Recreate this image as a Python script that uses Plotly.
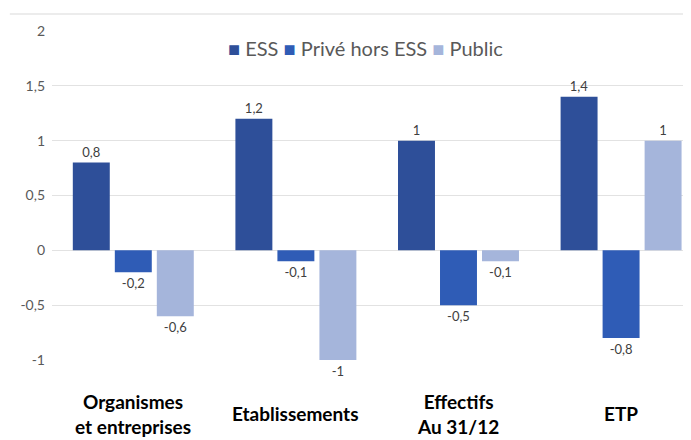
import plotly.graph_objects as go

categories = ["Organismes<br>et entreprises", "Etablissements", "Effectifs<br>Au 31/12", "ETP"]
series_names = ["ESS", "Privé hors ESS", "Public"]
ess = [0.8, 1.2, 1.0, 1.4]
prive = [-0.2, -0.1, -0.5, -0.8]
public = [-0.6, -1.0, -0.1, 1.0]
y_ticks = [2, 1.5, 1, 0.5, 0, -0.5, -1]

colors = ["#2e4f99", "#2f5cb6", "#a5b5db"]
font = "Lato, 'Open Sans', sans-serif"


def fmt(v):
    return f"{v:g}".replace(".", ",")


x = list(range(len(categories)))
fig = go.Figure()
for name, vals, col in zip(series_names, [ess, prive, public], colors):
    fig.add_trace(go.Bar(
        name=name, x=x, y=vals, marker=dict(color=col, line=dict(width=0)),
        text=[fmt(v) for v in vals], textposition="outside",
        textfont=dict(size=13, color="#404040", family=font),
        cliponaxis=False,
    ))

for i, c in enumerate(categories):
    fig.add_annotation(x=i, y=-0.164, xref="x", yref="paper", text=f"<b>{c}</b>",
                       showarrow=False, yanchor="middle", xanchor="center",
                       font=dict(size=19, color="#000000", family=font))

legend_text = " ".join(
    f"<span style='color:{c}'>■</span> {n}" for n, c in zip(series_names, colors)
)
fig.add_annotation(x=0.49, y=0.948, xref="paper", yref="paper", text=legend_text,
                   showarrow=False, xanchor="center", yanchor="middle",
                   font=dict(size=20, color="#595959", family=font))

fig.add_shape(type="line", xref="paper", yref="paper", x0=-0.066, x1=1.0, y0=1.052, y1=1.052,
              line=dict(color="#ececec", width=2))

fig.update_layout(
    width=683, height=432,
    margin=dict(l=44, r=0, t=23, b=80),
    paper_bgcolor="white", plot_bgcolor="white",
    barmode="group", bargap=0.225, bargroupgap=0.12,
    separators=", ",
    font=dict(family=font),
    showlegend=False,
    xaxis=dict(range=[-0.5, 3.43], showticklabels=False, showgrid=False, zeroline=False,
               showline=False, tickvals=x),
    yaxis=dict(range=[-1, 2], tickvals=y_ticks, ticktext=[fmt(v) for v in y_ticks],
               showgrid=True, gridcolor="#e2e2e2", gridwidth=1,
               zeroline=True, zerolinecolor="#e2e2e2", zerolinewidth=1,
               tickfont=dict(size=14, color="#595959", family=font), ticklabelstandoff=6,
               showline=False),
)

fig.write_html("out.html")
